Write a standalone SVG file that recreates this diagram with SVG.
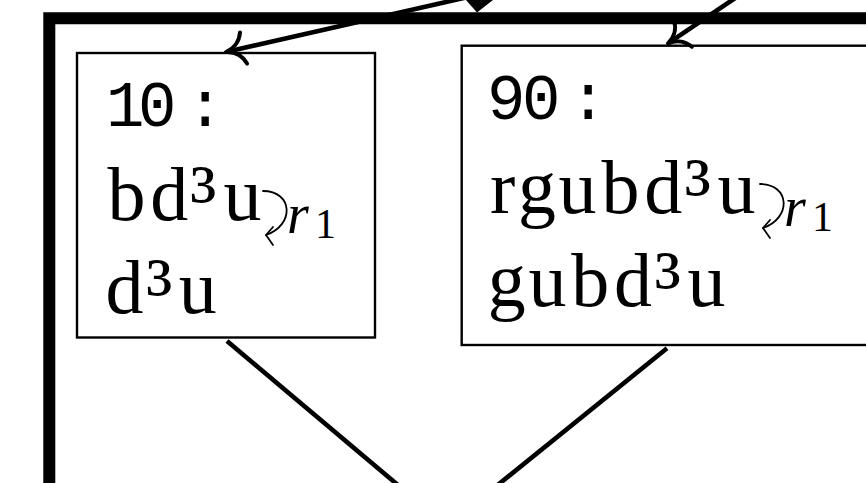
<svg xmlns="http://www.w3.org/2000/svg" width="866" height="483" viewBox="0 0 866 483">
<style>
.frame{fill:none;stroke:#000;stroke-width:12;stroke-linejoin:miter}
.box{fill:#fff;stroke:#000;stroke-width:2.4}
.edge{fill:none;stroke:#000;stroke-width:4.6}
.head{fill:none;stroke:#000;stroke-width:4;stroke-linecap:round;stroke-linejoin:round}
.mono{font-family:"Liberation Mono",monospace;font-size:64px;fill:#000}
.rm{font-family:"Liberation Serif",serif;font-size:76px;fill:#000}
.sup{font-size:88px}
.it{font-family:"Liberation Serif",serif;font-style:italic;font-size:56px;fill:#000}
.sub{font-family:"Liberation Serif",serif;font-size:42px;fill:#000}
.curl{fill:none;stroke:#000;stroke-width:1.8;stroke-linecap:round;stroke-linejoin:round}
</style>
<defs>
<path id="tohead" class="head" d="M-18,-16 C-15,-6 -7,-1.2 0,0 C-7,1.2 -15,6 -18,16"/>
<g id="curlarrow">
<path class="curl" d="M0,0 C30,0 32,34 3,44"/>
<path class="curl" d="M10,36 L3,44 L10,54"/>
</g>
</defs>
<rect width="866" height="483" fill="#fff"/>
<path class="frame" d="M49.3,495 V18.3 H880"/>
<g id="node10">
<rect class="box" x="77" y="53" width="298" height="284.5"/>
<text class="mono" x="106 138 186" y="126">10:</text>
<text class="rm" y="220"><tspan x="107.4 150.2">bd</tspan><tspan class="sup" x="190" dy="5">³</tspan><tspan x="223.6" dy="-5">u</tspan></text>
<use href="#curlarrow" x="263" y="191"/>
<text class="it" x="287" y="233">r</text>
<text class="sub" x="315" y="238">1</text>
<text class="rm" y="313"><tspan x="105.4">d</tspan><tspan class="sup" x="146" dy="5">³</tspan><tspan x="178.8" dy="-5">u</tspan></text>
</g>
<g id="node90">
<rect class="box" x="461.7" y="45.7" width="420" height="299.3"/>
<text class="mono" x="487 522 569" y="119">90:</text>
<text class="rm" y="213"><tspan x="490 518 558.6 601.4 644.2">rgubd</tspan><tspan class="sup" x="684.6" dy="5">³</tspan><tspan x="717.6" dy="-5">u</tspan></text>
<use href="#curlarrow" x="760" y="184"/>
<text class="it" x="784" y="226">r</text>
<text class="sub" x="812" y="231">1</text>
<text class="rm" y="306"><tspan x="487.8 528.4 571.2 614">gubd</tspan><tspan class="sup" x="654.4" dy="5">³</tspan><tspan x="687.4" dy="-5">u</tspan></text>
</g>
<g id="connectors">
<line class="edge" x1="543" y1="-20" x2="228" y2="51.5"/>
<use href="#tohead" transform="translate(226,52) rotate(167.2)"/>
<line class="edge" x1="762" y1="-20" x2="669.5" y2="42.3"/>
<use href="#tohead" transform="translate(668,43.5) rotate(146)"/>
<path d="M466,0 L477,12.5 L493,0 Z" fill="#000"/>
<line class="edge" x1="227" y1="341" x2="405" y2="491"/>
<line class="edge" x1="667" y1="348.3" x2="494" y2="488"/>
</g>
</svg>
